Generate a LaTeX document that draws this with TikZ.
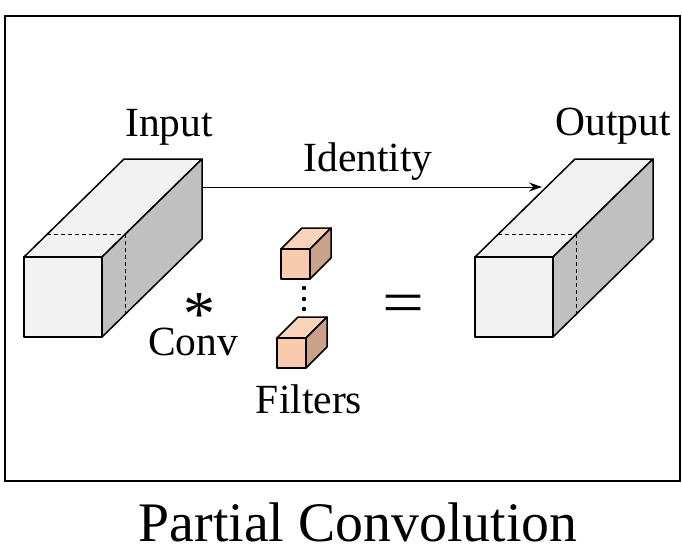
\documentclass[tikz,border=0pt]{standalone}
\usepackage{fontspec}
\setmainfont{Liberation Serif}
\usetikzlibrary{arrows.meta}
\definecolor{boxfront}{HTML}{F2F2F2}
\definecolor{boxside}{HTML}{C0C0C0}
\definecolor{filfront}{HTML}{F8CBAD}
\definecolor{filtop}{HTML}{F9D4BB}
\definecolor{filside}{HTML}{C8A28A}
\tikzset{
  edge/.style={draw=black, line width=1.5pt, line join=round},
  lbl/.style={inner sep=0pt, anchor=base, font=\fontsize{41.5}{48}\selectfont},
  ttl/.style={inner sep=0pt, anchor=base, font=\fontsize{55.8}{64}\selectfont},
  hidden/.style={draw=black, line width=0.9pt, dash pattern=on 4pt off 3pt},
  flow/.style={draw=black, line width=1pt, -{Stealth[length=13pt,width=9pt]}}
}
\def\bigcuboid#1{%
  \begin{scope}[xshift=#1pt]
    \path[edge, fill=boxfront] (124,159) -- (202,159) -- (102,257) -- (24,257) -- cycle;
    \path[edge, fill=boxside] (102,257) -- (202,159) -- (202,239) -- (102,337) -- cycle;
    \path[edge, fill=boxfront] (24,257) rectangle (102,337);
    \draw[hidden] (47,234.5) -- (125,234.5) -- (125,314.5);
  \end{scope}}
\def\filtercube#1#2{%
  \begin{scope}[shift={(#1pt,-#2pt)}]
    \path[edge, fill=filtop] (0,0) -- (21,-21) -- (50,-21) -- (29,0) -- cycle;
    \path[edge, fill=filside] (29,0) -- (50,-21) -- (50,9) -- (29,30) -- cycle;
    \path[edge, fill=filfront] (0,0) rectangle (29,30);
  \end{scope}}
\begin{document}
\begin{tikzpicture}[x=1pt, y=-1pt]
  \useasboundingbox (0,0) rectangle (682,554);
  \draw[line width=2pt] (5,16) rectangle (680,481);
  % input and output tensors
  \bigcuboid{0}
  \bigcuboid{451}
  \coordinate (inport) at (202,187);
  \coordinate (outport) at (542,187);
  \draw[flow] (inport) -- (outport);
  % filters
  \filtercube{281}{249}
  \filtercube{277}{338}
  \foreach \yy in {288,299,309} \fill (304,\yy) circle (2.2pt);
  % labels
  \node[lbl] (input) at (169,136) {Input};
  \node[lbl] (output) at (613,135) {Output};
  \node[lbl] (identity) at (368,171) {Identity};
  \node[inner sep=0pt, anchor=center, font=\fontsize{64}{70}\selectfont] (star) at (199,302) {\raisebox{-0.37em}[0.31em][0pt]{*}};
  \node[lbl] (conv) at (193,355) {Conv};
  \node[lbl] (filters) at (309,413) {Filters};
  \node[lbl, font=\fontsize{62}{68}\selectfont, xscale=1.2] (equals) at (403,323) {=};
  \node[ttl] (title) at (358,541) {Partial Convolution};
\end{tikzpicture}
\end{document}
